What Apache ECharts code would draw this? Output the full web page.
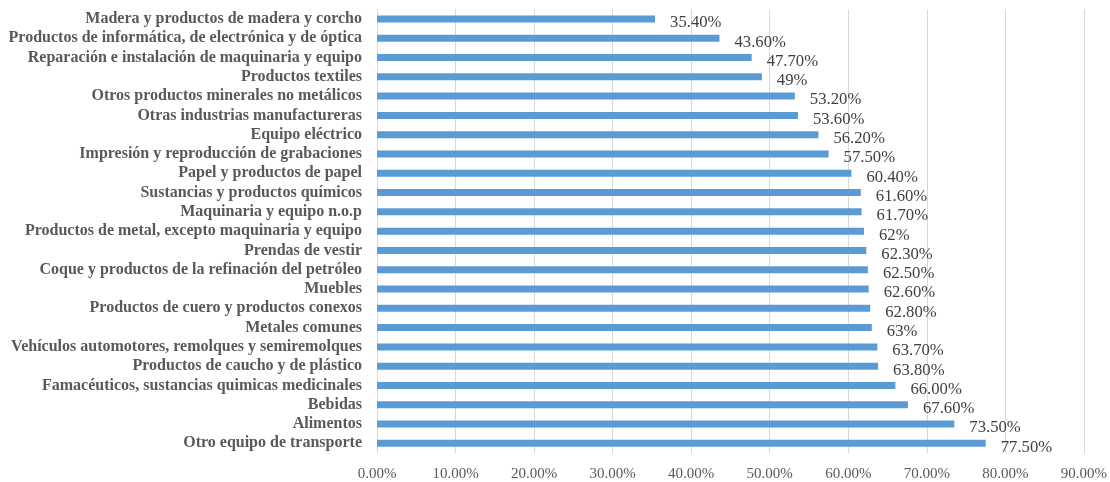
<!DOCTYPE html>
<html>
<head>
<meta charset="utf-8">
<script src="https://cdn.jsdelivr.net/npm/echarts@6/dist/echarts.min.js"></script>
<style>
html,body{margin:0;padding:0;background:#fff;}
#chart{width:1110px;height:482px;}
</style>
</head>
<body>
<div id="chart"></div>
<script>
const categories = [
  "Madera y productos de madera y corcho",
  "Productos de informática, de electrónica y de óptica",
  "Reparación e instalación de maquinaria y equipo",
  "Productos textiles",
  "Otros productos minerales no metálicos",
  "Otras industrias manufactureras",
  "Equipo eléctrico",
  "Impresión y reproducción de grabaciones",
  "Papel y productos de papel",
  "Sustancias y productos químicos",
  "Maquinaria y equipo n.o.p",
  "Productos de metal, excepto maquinaria y equipo",
  "Prendas de vestir",
  "Coque y productos de la refinación del petróleo",
  "Muebles",
  "Productos de cuero y productos conexos",
  "Metales comunes",
  "Vehículos automotores, remolques y semiremolques",
  "Productos de caucho y de plástico",
  "Famacéuticos, sustancias quimicas medicinales",
  "Bebidas",
  "Alimentos",
  "Otro equipo de transporte"
];
const values = [35.4, 43.6, 47.7, 49, 53.2, 53.6, 56.2, 57.5, 60.4, 61.6, 61.7, 62, 62.3, 62.5, 62.6, 62.8, 63, 63.7, 63.8, 66.0, 67.6, 73.5, 77.5];
const valueLabels = ["35.40%", "43.60%", "47.70%", "49%", "53.20%", "53.60%", "56.20%", "57.50%", "60.40%", "61.60%", "61.70%", "62%", "62.30%", "62.50%", "62.60%", "62.80%", "63%", "63.70%", "63.80%", "66.00%", "67.60%", "73.50%", "77.50%"];
const tickLabels = ["0.00%", "10.00%", "20.00%", "30.00%", "40.00%", "50.00%", "60.00%", "70.00%", "80.00%", "90.00%"];

const chart = echarts.init(document.getElementById('chart'), null, {renderer: 'canvas'});
chart.setOption({
  animation: false,
  backgroundColor: '#ffffff',
  grid: {left: 377, right: 25, top: 9.3, bottom: 27.3, containLabel: false},
  xAxis: {
    type: 'value', min: 0, max: 90, interval: 10,
    axisLine: {show: false}, axisTick: {show: false},
    splitLine: {lineStyle: {color: '#d9d9d9', width: 1}},
    axisLabel: {
      margin: 14, color: '#595959', fontFamily: 'Liberation Serif', fontSize: 15,
      formatter: function (v) { return tickLabels[Math.round(v / 10)]; }
    }
  },
  yAxis: {
    type: 'category', data: categories, inverse: true,
    axisLine: {show: false}, axisTick: {show: false},
    axisLabel: {interval: 0, margin: 15, padding: [4, 0, 0, 0], color: '#595959', fontFamily: 'Liberation Serif', fontWeight: 'bold', fontSize: 16}
  },
  series: [{
    type: 'bar', data: values, barWidth: 7,
    itemStyle: {color: '#5b9bd5'},
    label: {
      show: true, position: 'right', distance: 15, offset: [0, 4],
      color: '#404040', fontFamily: 'Liberation Serif', fontSize: 16.7,
      formatter: function (p) { return valueLabels[p.dataIndex]; }
    }
  }]
});
</script>
</body>
</html>
